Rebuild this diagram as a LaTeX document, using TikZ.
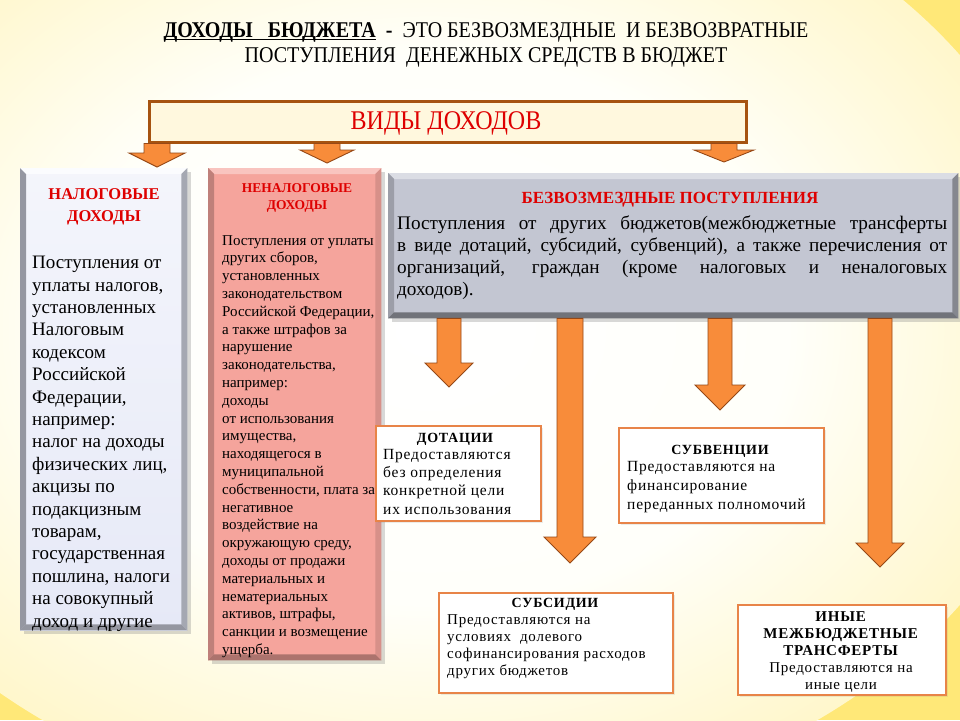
\documentclass[tikz,border=0pt]{standalone}
\usepackage{fontspec}
\setmainfont{Liberation Serif}
\newfontfamily\condfont[FakeStretch=0.89]{Liberation Serif}
\newfontfamily\spfont[LetterSpace=5]{Liberation Serif}
\usetikzlibrary{calc,shadows}
\definecolor{bgyellow}{RGB}{255,232,120}
\definecolor{arrowfill}{RGB}{248,140,58}
\definecolor{arrowedge}{RGB}{150,72,22}
\definecolor{topfill}{RGB}{255,248,222}
\definecolor{topedge}{RGB}{166,83,16}
\definecolor{redtxt}{RGB}{222,0,0}
\definecolor{lavfill}{RGB}{230,233,247}
\definecolor{pinkfill}{RGB}{245,164,156}
\definecolor{grayfill}{RGB}{195,198,210}
\definecolor{boxedge}{RGB}{232,132,72}
\newsavebox\myulbox
\newcommand\myul[1]{\sbox\myulbox{#1}\rlap{\rule[-2.6pt]{\wd\myulbox}{1.2pt}}\usebox\myulbox}
\pgfdeclareradialshading{bgglow}{\pgfpoint{0bp}{0bp}}{rgb(0bp)=(1,1,1); rgb(14bp)=(1,1,0.98); rgb(45bp)=(1,0.91,0.47); rgb(50bp)=(1,0.91,0.47)}
\newcommand\bevelbox[6]{%
  \fill[#3] (#1.north west) -- (#1.north east) -- ($(#1.north east)+(-#2,#2)$) -- ($(#1.north west)+(#2,#2)$) -- cycle;
  \fill[#4] (#1.north west) -- ($(#1.north west)+(#2,#2)$) -- ($(#1.south west)+(#2,-#2)$) -- (#1.south west) -- cycle;
  \fill[#5] (#1.north east) -- (#1.south east) -- ($(#1.south east)+(-#2,-#2)$) -- ($(#1.north east)+(-#2,#2)$) -- cycle;
  \fill[#6] (#1.south west) -- (#1.south east) -- ($(#1.south east)+(-#2,-#2)$) -- ($(#1.south west)+(#2,-#2)$) -- cycle;
}
\newcommand\blockarrow[5]{%
  \filldraw[blockarr] let \p1=(#1), \p2=(#2) in
   (\x2-#3,\y1) -- (\x2+#3,\y1) -- (\x2+#3,\y2+#5) -- (\x2+#4,\y2+#5) -- (\x2,\y2) -- (\x2-#4,\y2+#5) -- (\x2-#3,\y2+#5) -- cycle;
}
\begin{document}
\begin{tikzpicture}[x=1pt,y=-1pt,
  bigbox/.style={inner sep=0pt, anchor=north west, drop shadow={shadow xshift=4pt,shadow yshift=-4pt,opacity=0.3}},
  smallbox/.style={draw=boxedge, line width=1.6pt, fill=white, inner sep=0pt, anchor=north west, drop shadow={shadow xshift=2pt,shadow yshift=-2pt,opacity=0.15}},
  blockarr/.style={fill=arrowfill, draw=arrowedge, line width=0.9pt, line join=miter},
  redtitle/.style={text=redtxt, align=center, inner sep=0pt},
  bodytext/.style={align=left, inner sep=0pt, anchor=north west},
  smalltitle/.style={align=center, inner sep=0pt, font=\spfont\bfseries\fontsize{14}{17}\selectfont},
  smallbody/.style={align=left, inner sep=0pt, anchor=north west}]
\useasboundingbox (0,0) rectangle (960,720);
% background
\fill[bgyellow] (0,0) rectangle (960,720);
\begin{scope}
\clip (0,0) rectangle (960,720);
\shade[shading=bgglow] (430,330) ellipse [x radius=640pt, y radius=490pt];
\end{scope}
% title
\node[align=center, inner sep=0pt, font=\condfont\fontsize{22.5}{25}\selectfont] (title) at (486,45)
 {\myul{\textbf{ДОХОДЫ\ \ \ БЮДЖЕТА}}\textbf{\ \ -\ \ }ЭТО БЕЗВОЗМЕЗДНЫЕ\ \ И БЕЗВОЗВРАТНЫЕ\\ПОСТУПЛЕНИЯ\ \ ДЕНЕЖНЫХ СРЕДСТВ В БЮДЖЕТ};
% top box
\node[draw=topedge, line width=2.5pt, fill=topfill, minimum width=597pt, minimum height=41pt, inner sep=0pt, anchor=north west] (vid) at (148,100) {};
\node[inner sep=0pt, text=redtxt, font=\condfont\fontsize{27}{30}\selectfont] (vidT) at (446,123) {ВИДЫ ДОХОДОВ};
% big boxes
\node[bigbox, top color=white!55!lavfill, bottom color=lavfill, minimum width=167pt, minimum height=462pt] (nal) at (20,168) {};
\bevelbox{nal}{6}{white!85!lavfill}{black!35!lavfill}{black!28!lavfill}{black!35!lavfill}
\node[bigbox, fill=pinkfill, minimum width=173pt, minimum height=492pt] (nenal) at (208,168) {};
\bevelbox{nenal}{6}{white!35!pinkfill}{black!22!pinkfill}{black!12!pinkfill}{black!30!pinkfill}
\node[bigbox, fill=grayfill, minimum width=570pt, minimum height=145pt] (bez) at (388,173) {};
\bevelbox{bez}{6}{white!40!grayfill}{black!20!grayfill}{black!32!grayfill}{black!42!grayfill}
% texts in big boxes
\node[redtitle, font=\bfseries\fontsize{16.5}{22}\selectfont] (nalT) at (104,207) {НАЛОГОВЫЕ\\ДОХОДЫ};
\node[bodytext, font=\fontsize{19}{22.4}\selectfont] (nalB) at (32,256)
 {Поступления от\\уплаты налогов,\\установленных\\Налоговым\\кодексом\\Российской\\Федерации,\\например:\\налог на доходы\\физических лиц,\\акцизы по\\подакцизным\\товарам,\\государственная\\пошлина, налоги\\на совокупный\\доход и другие};
\node[redtitle, font=\bfseries\fontsize{13.5}{17}\selectfont] (nenalT) at (297,198) {НЕНАЛОГОВЫЕ\\ДОХОДЫ};
\node[bodytext, font=\fontsize{15}{17.8}\selectfont] (nenalB) at (222,235)
 {Поступления от уплаты\\других сборов,\\установленных\\законодательством\\Российской Федерации,\\а также штрафов за\\нарушение\\законодательства,\\например:\\доходы\\от использования\\имущества,\\находящегося в\\муниципальной\\собственности, плата за\\негативное\\воздействие на\\окружающую среду,\\доходы от продажи\\материальных и\\нематериальных\\активов, штрафы,\\санкции и возмещение\\ущерба.};
\node[redtitle, font=\bfseries\fontsize{17}{20}\selectfont] (bezT) at (670,200) {БЕЗВОЗМЕЗДНЫЕ ПОСТУПЛЕНИЯ};
\node[inner sep=0pt, anchor=north west, text width=550pt, align=justify, font=\fontsize{19.2}{22}\selectfont] (bezB) at (397,216)
 {Поступления от других бюджетов(межбюджетные трансферты\linebreak в виде дотаций, субсидий, субвенций), а также перечисления от\linebreak организаций, граждан (кроме налоговых и неналоговых\linebreak доходов).};
% small boxes
\node[smallbox, minimum width=165pt, minimum height=95pt] (dot) at (375,425) {};
\node[smalltitle] (dotT) at (455,439) {ДОТАЦИИ};
\node[smallbox, minimum width=205pt, minimum height=95pt] (subv) at (618,427) {};
\node[smalltitle] (subvT) at (720,451) {СУБВЕНЦИИ};
\node[smallbox, minimum width=234pt, minimum height=100pt] (subs) at (438,592) {};
\node[smalltitle] (subsT) at (555,604) {СУБСИДИИ};
\node[smallbox, minimum width=208pt, minimum height=90pt] (inye) at (737,604) {};
\node[smallbody, font=\spfont\fontsize{15.5}{18.3}\selectfont] (dotB) at (383,449)
 {Предоставляются\\без определения\\конкретной цели\\их использования};
\node[smallbody, font=\spfont\fontsize{15.5}{19}\selectfont] (subvB) at (627,461)
 {Предоставляются на\\финансирование\\переданных полномочий};
\node[smallbody, font=\spfont\fontsize{15}{17.3}\selectfont] (subsB) at (447,614)
 {Предоставляются на\\условиях\ \ долевого\\софинансирования\ расходов\\других бюджетов};
\node[align=center, inner sep=0pt, font=\spfont\fontsize{15}{17}\selectfont] (inyeB) at (841,652)
 {\textbf{ИНЫЕ}\\\textbf{МЕЖБЮДЖЕТНЫЕ}\\\textbf{ТРАНСФЕРТЫ}\\Предоставляются на\\иные цели};
% arrow tips
\coordinate (t1) at (157,167);
\coordinate (t2) at (327,163);
\coordinate (t3) at (724,162);
\coordinate (tA) at (449,387);
\coordinate (tB) at (570,563);
\coordinate (tC) at (720,410);
\coordinate (tD) at (880,567);
\blockarrow{vid.south -| t1}{t1}{13pt}{28pt}{14pt}
\blockarrow{vid.south -| t2}{t2}{13pt}{27pt}{13pt}
\blockarrow{vid.south -| t3}{t3}{13pt}{30pt}{12pt}
\blockarrow{bez.south -| tA}{tA}{12pt}{24pt}{24pt}
\blockarrow{bez.south -| tB}{tB}{13pt}{26pt}{26pt}
\blockarrow{bez.south -| tC}{tC}{12pt}{25pt}{25pt}
\blockarrow{bez.south -| tD}{tD}{12pt}{24pt}{24pt}
\end{tikzpicture}
\end{document}
